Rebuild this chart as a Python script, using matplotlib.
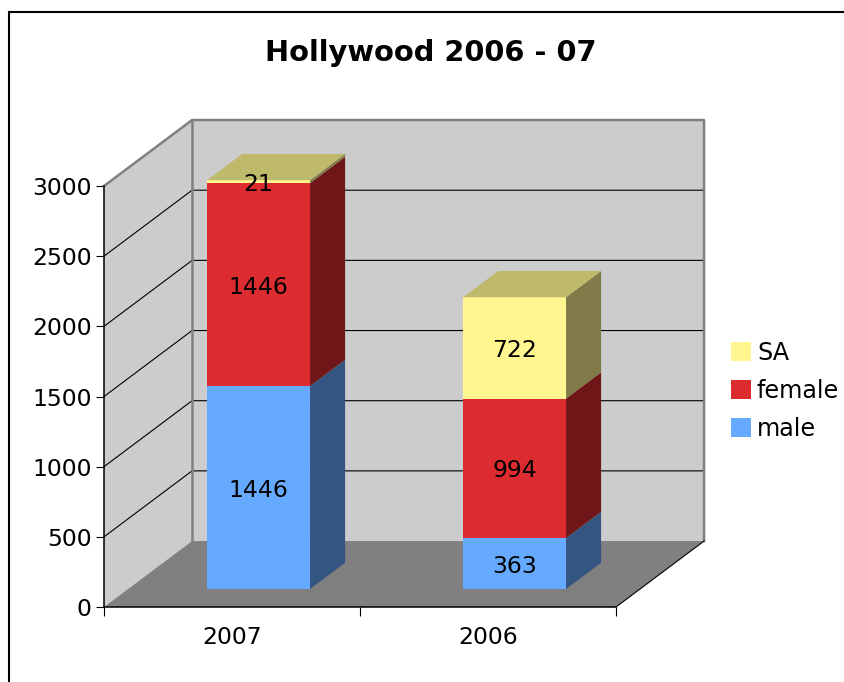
import matplotlib
matplotlib.use('Agg')
import matplotlib.pyplot as plt
from matplotlib.colors import to_rgb
from matplotlib.patches import Patch, Rectangle

years = ['2007', '2006']
male = [1446, 363]
female = [1446, 994]
sa = [21, 722]
series_names = ['male', 'female', 'SA']
series_colors = ['#66aaff', '#dd2c30', '#fff68f']
y_ticks = [0, 500, 1000, 1500, 2000, 2500, 3000]

WIDTH, HEIGHT = 844, 682
GRAY = '#808080'
WALL = '#cccccc'
# shear of the fake 3d depth axis, one depth unit in data units
DX = 0.344
DY = 470.0
BAR_W = 0.402
BAR_SHIFT = 0.01
D0, D1 = 0.273, 0.671
FONT = 16.9


def proj(x, v, d):
    return x + d * DX, v + d * DY


def face(ax, corners, color, z):
    pts = [proj(*c) for c in corners]
    ax.fill([p[0] for p in pts], [p[1] for p in pts], color=color, lw=0, clip_on=False, zorder=z)


def shade(color, k):
    return tuple(c * k for c in to_rgb(color))


def draw_walls(ax):
    face(ax, [(0, 0, 0), (0, 3000, 0), (0, 3000, 1), (0, 0, 1)], WALL, 1)
    face(ax, [(0, 0, 1), (0, 3000, 1), (2, 3000, 1), (2, 0, 1)], WALL, 1)
    face(ax, [(0, 0, 0), (2, 0, 0), (2, 0, 1), (0, 0, 1)], GRAY, 1.5)
    for v in y_ticks[1:-1]:
        xs, ys = zip(proj(0, v, 0), proj(0, v, 1), proj(2, v, 1))
        ax.plot(xs, ys, color='black', lw=0.8, clip_on=False, zorder=2)
    # gray frame of the back wall
    xs, ys = zip(proj(0, 3000, 0), proj(0, 3000, 1), proj(2, 3000, 1), proj(2, 0, 1))
    ax.plot(xs, ys, color=GRAY, lw=1.8, clip_on=False, zorder=2)
    xs, ys = zip(proj(0, 3000, 1), proj(0, 0, 1))
    ax.plot(xs, ys, color=GRAY, lw=1.8, clip_on=False, zorder=2)
    # front edge of the floor on the right
    xs, ys = zip(proj(2, 0, 0), proj(2, 0, 1))
    ax.plot(xs, ys, color='black', lw=0.8, clip_on=False, zorder=2)


def draw_bar(ax, i):
    left = i + 0.5 + BAR_SHIFT - BAR_W / 2
    right = left + BAR_W
    bottom = 0
    z = 3
    for values, color in zip([male, female, sa], series_colors):
        top = bottom + values[i]
        face(ax, [(right, bottom, D0), (right, top, D0), (right, top, D1), (right, bottom, D1)], shade(color, 0.5), z)
        face(ax, [(left, bottom, D0), (right, bottom, D0), (right, top, D0), (left, top, D0)], color, z)
        cx, cy = proj(i + 0.5 + BAR_SHIFT, (bottom + top) / 2, D0)
        ax.text(cx, cy, str(values[i]), ha='center', va='center_baseline', fontsize=FONT, color='black', zorder=10)
        bottom = top
    face(ax, [(left, bottom, D0), (right, bottom, D0), (right, bottom, D1), (left, bottom, D1)],
         shade(series_colors[2], 0.75), z)


fig = plt.figure(figsize=(WIDTH / 100, HEIGHT / 100), dpi=100)
fig.add_artist(Rectangle((8.7 / WIDTH, -0.1), 1.1, 0.1 + (HEIGHT - 12) / HEIGHT, transform=fig.transFigure,
                         fill=False, edgecolor='black', lw=1.5))
ax = fig.add_axes([104 / WIDTH, (HEIGHT - 607) / HEIGHT, 512 / WIDTH, 421 / HEIGHT])
ax.patch.set_visible(False)
ax.set_xlim(0, 2)
ax.set_ylim(0, 3000)
for s in ['top', 'right']:
    ax.spines[s].set_visible(False)
for s in ['left', 'bottom']:
    ax.spines[s].set_linewidth(1.1)
    ax.spines[s].set_zorder(2.5)

ax.set_yticks(y_ticks)
ax.set_xticks([0, 1, 2])
ax.set_xticklabels([])
ax.set_xticks([0.5, 1.5], minor=True)
ax.set_xticklabels(years, minor=True)
ax.tick_params(axis='y', labelsize=FONT, length=5.5, width=0.8, pad=3.5)
ax.tick_params(axis='x', which='major', length=6.5, width=0.8)
ax.tick_params(axis='x', which='minor', labelsize=FONT, length=0, pad=14)

draw_walls(ax)
for i in range(len(years)):
    draw_bar(ax, i)

fig.text(431 / WIDTH, 1 - 53 / HEIGHT, 'Hollywood 2006 - 07', ha='center', va='center',
         fontsize=20.8, fontweight='bold', color='black')

handles = [Patch(facecolor=c, edgecolor='none', label=n) for c, n in zip(series_colors, series_names)][::-1]
fig.legend(handles=handles, loc='upper left', bbox_to_anchor=(731 / WIDTH, 1 - 341 / HEIGHT),
           frameon=False, fontsize=17.2, handlelength=0.837, handleheight=0.837, handletextpad=0.25,
           labelspacing=0.59, borderpad=0, borderaxespad=0)

fig.savefig('out.png', dpi=100)
